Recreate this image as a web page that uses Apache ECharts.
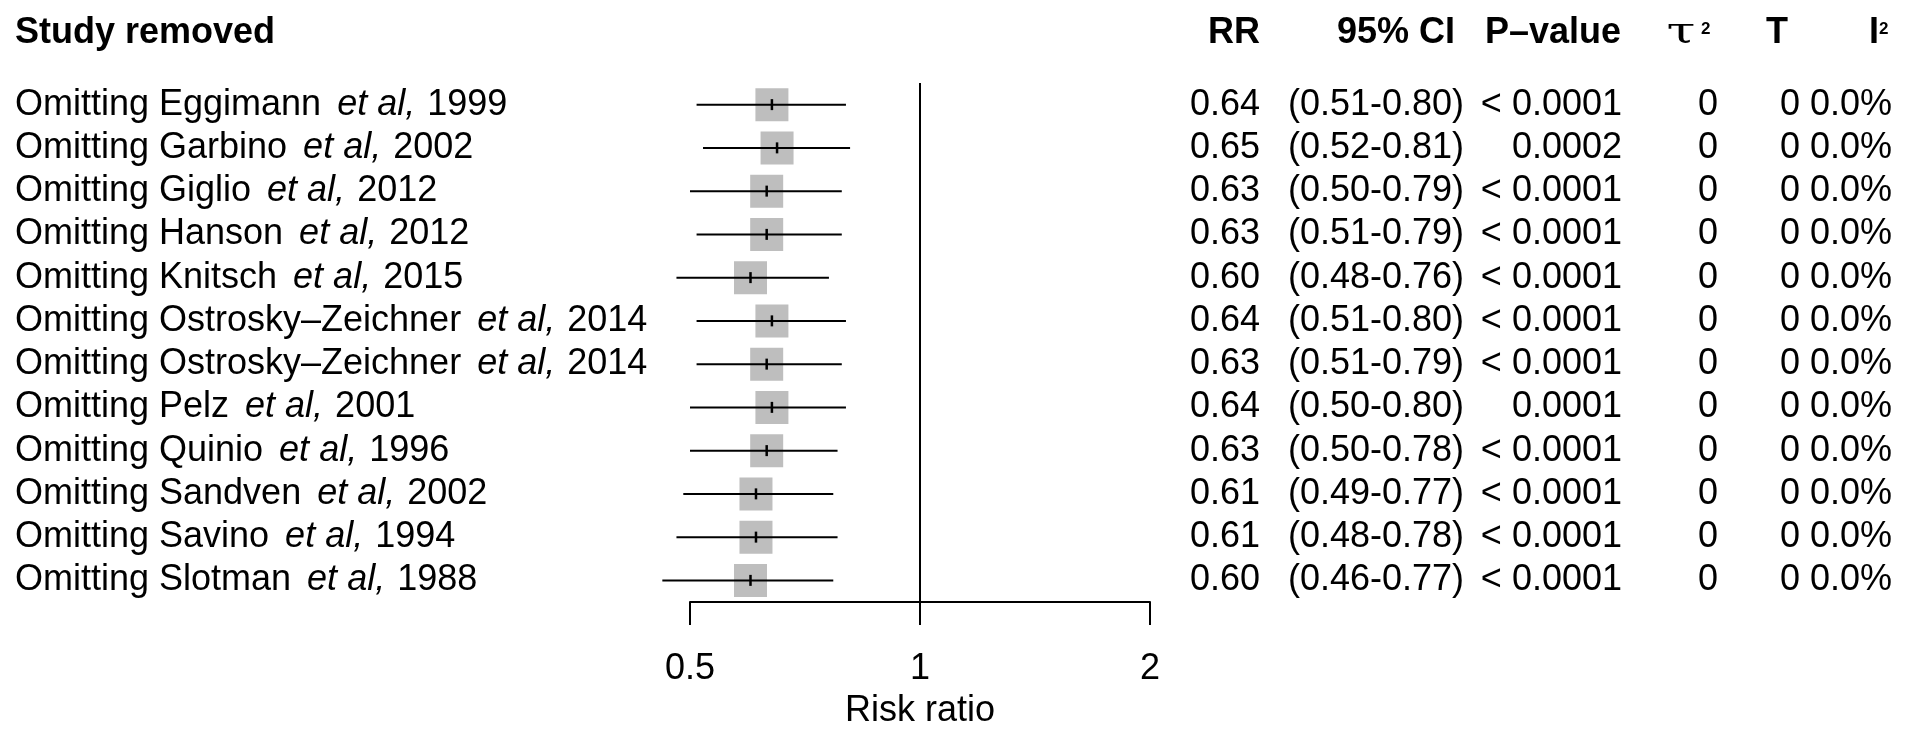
<!DOCTYPE html>
<html>
<head>
<meta charset="utf-8">
<script src="https://cdn.jsdelivr.net/npm/echarts@6/dist/echarts.min.js"></script>
<style>
html,body{margin:0;padding:0;background:#fff;}
#chart{width:1913px;height:741px;}
</style>
</head>
<body>
<div id="chart"></div>
<script>
const studies = ['Eggimann','Garbino','Giglio','Hanson','Knitsch','Ostrosky\u2013Zeichner','Ostrosky\u2013Zeichner','Pelz','Quinio','Sandven','Savino','Slotman'];
const years = ['1999','2002','2012','2012','2015','2014','2014','2001','1996','2002','1994','1988'];
const rr = [0.64,0.65,0.63,0.63,0.60,0.64,0.63,0.64,0.63,0.61,0.61,0.60];
const lower = [0.51,0.52,0.50,0.51,0.48,0.51,0.51,0.50,0.50,0.49,0.48,0.46];
const upper = [0.80,0.81,0.79,0.79,0.76,0.80,0.79,0.80,0.78,0.77,0.78,0.77];
const pvals = ['< 0.0001','0.0002','< 0.0001','< 0.0001','< 0.0001','< 0.0001','< 0.0001','0.0001','< 0.0001','< 0.0001','< 0.0001','< 0.0001'];
const tau2 = ['0','0','0','0','0','0','0','0','0','0','0','0'];
const tStat = ['0','0','0','0','0','0','0','0','0','0','0','0'];
const i2 = ['0.0%','0.0%','0.0%','0.0%','0.0%','0.0%','0.0%','0.0%','0.0%','0.0%','0.0%','0.0%'];
const xTicks = [0.5, 1, 2];
const xTickLabels = ['0.5', '1', '2'];

const FONT = 'Liberation Sans, Arial, Helvetica, sans-serif';
const rowIdx = studies.map((s, i) => i + 1);
const labelText = studies.map((s, i) => '{n|Omitting ' + s + ' }{i|et al,}{n| ' + years[i] + '}');

const chart = echarts.init(document.getElementById('chart'), null, {renderer: 'canvas'});

function colAxis(data, margin) {
  return {
    type: 'category', gridIndex: 0, position: 'right', inverse: true, data: data,
    boundaryGap: true,
    axisLine: {show: false}, axisTick: {show: false}, splitLine: {show: false},
    axisLabel: {interval: 0, align: 'right', margin: margin, fontSize: 36, fontFamily: FONT, color: '#000'}
  };
}

const option = {
  animation: false,
  backgroundColor: '#fff',
  grid: {left: 690, width: 460, top: 83, height: 519, containLabel: false},
  xAxis: {
    type: 'log', logBase: 2, min: xTicks[0], max: xTicks[xTicks.length - 1], interval: 1,
    axisLine: {show: true, onZero: false, lineStyle: {color: '#000', width: 2}},
    axisTick: {show: true, inside: false, length: 23, lineStyle: {color: '#000', width: 2}},
    splitLine: {show: false},
    axisLabel: {
      margin: 49, fontSize: 36, fontFamily: FONT, color: '#000',
      formatter: function (v) {
        let best = 0;
        xTicks.forEach((t, k) => { if (Math.abs(t - v) < Math.abs(xTicks[best] - v)) best = k; });
        return xTickLabels[best];
      }
    },
    name: 'Risk ratio', nameLocation: 'middle', nameGap: 91,
    nameTextStyle: {fontSize: 36, fontFamily: FONT, color: '#000'}
  },
  yAxis: [
    {type: 'value', min: 0.5, max: 12.5, inverse: true, show: false},
    {
      type: 'category', gridIndex: 0, position: 'left', inverse: true, data: labelText,
      boundaryGap: true,
      axisLine: {show: false}, axisTick: {show: false}, splitLine: {show: false},
      axisLabel: {
        interval: 0, align: 'left', margin: 675,
        rich: {
          n: {fontSize: 36, fontFamily: FONT, color: '#000'},
          i: {fontSize: 36, fontFamily: FONT, fontStyle: 'italic', color: '#000', padding: [0, 2, 0, 6]}
        }
      }
    },
    colAxis(rr.map(v => v.toFixed(2)), 110),
    colAxis(lower.map((l, k) => '(' + l.toFixed(2) + '-' + upper[k].toFixed(2) + ')'), 314),
    colAxis(pvals, 472),
    colAxis(tau2, 568),
    colAxis(tStat, 650),
    colAxis(i2, 742)
  ],
  series: [
    {
      type: 'scatter', yAxisIndex: 0, symbol: 'rect', symbolSize: 33, silent: true,
      itemStyle: {color: '#bebebe', opacity: 1},
      data: rr.map((v, k) => [v, rowIdx[k]]), z: 2
    },
    {
      type: 'custom', yAxisIndex: 0, silent: true, z: 3,
      data: lower.map((l, k) => [l, upper[k], rowIdx[k]]),
      renderItem: function (params, api) {
        const p1 = api.coord([api.value(0), api.value(2)]);
        const p2 = api.coord([api.value(1), api.value(2)]);
        return {type: 'line', shape: {x1: p1[0], y1: p1[1], x2: p2[0], y2: p2[1]}, style: {stroke: '#000', lineWidth: 2}};
      }
    },
    {
      type: 'scatter', yAxisIndex: 0, symbol: 'rect', symbolSize: [2.5, 11], silent: true, z: 4,
      itemStyle: {color: '#000', opacity: 1},
      data: rr.map((v, k) => [v, rowIdx[k]])
    },
    {
      type: 'line', yAxisIndex: 0, silent: true, symbol: 'none', z: 5,
      lineStyle: {color: '#000', width: 2},
      data: [[1, 0.5], [1, 12.5]]
    }
  ],
  graphic: [
    {type: 'text', x: 15, y: 33, style: {text: 'Study removed', font: 'bold 36px ' + FONT, fill: '#000', align: 'left', verticalAlign: 'middle'}},
    {type: 'text', x: 1260, y: 33, style: {text: 'RR', font: 'bold 36px ' + FONT, fill: '#000', align: 'right', verticalAlign: 'middle'}},
    {type: 'text', x: 1455, y: 33, style: {text: '95% CI', font: 'bold 36px ' + FONT, fill: '#000', align: 'right', verticalAlign: 'middle'}},
    {type: 'text', x: 1621, y: 33, style: {text: 'P\u2013value', font: 'bold 36px ' + FONT, fill: '#000', align: 'right', verticalAlign: 'middle'}},
    {type: 'text', x: 1681, y: 33, scaleX: 1.45, style: {text: '\u03c4', font: '36px DejaVu Serif', fill: '#000', align: 'center', verticalAlign: 'middle'}},
    {type: 'text', x: 1701, y: 29, style: {text: '2', font: 'bold 17px ' + FONT, fill: '#000', align: 'left', verticalAlign: 'middle'}},
    {type: 'text', x: 1788, y: 33, style: {text: 'T', font: 'bold 36px ' + FONT, fill: '#000', align: 'right', verticalAlign: 'middle'}},
    {type: 'text', x: 1879, y: 33, style: {text: 'I', font: 'bold 36px ' + FONT, fill: '#000', align: 'right', verticalAlign: 'middle'}},
    {type: 'text', x: 1879, y: 29, style: {text: '2', font: 'bold 17px ' + FONT, fill: '#000', align: 'left', verticalAlign: 'middle'}}
  ]
};
chart.setOption(option);
</script>
</body>
</html>
